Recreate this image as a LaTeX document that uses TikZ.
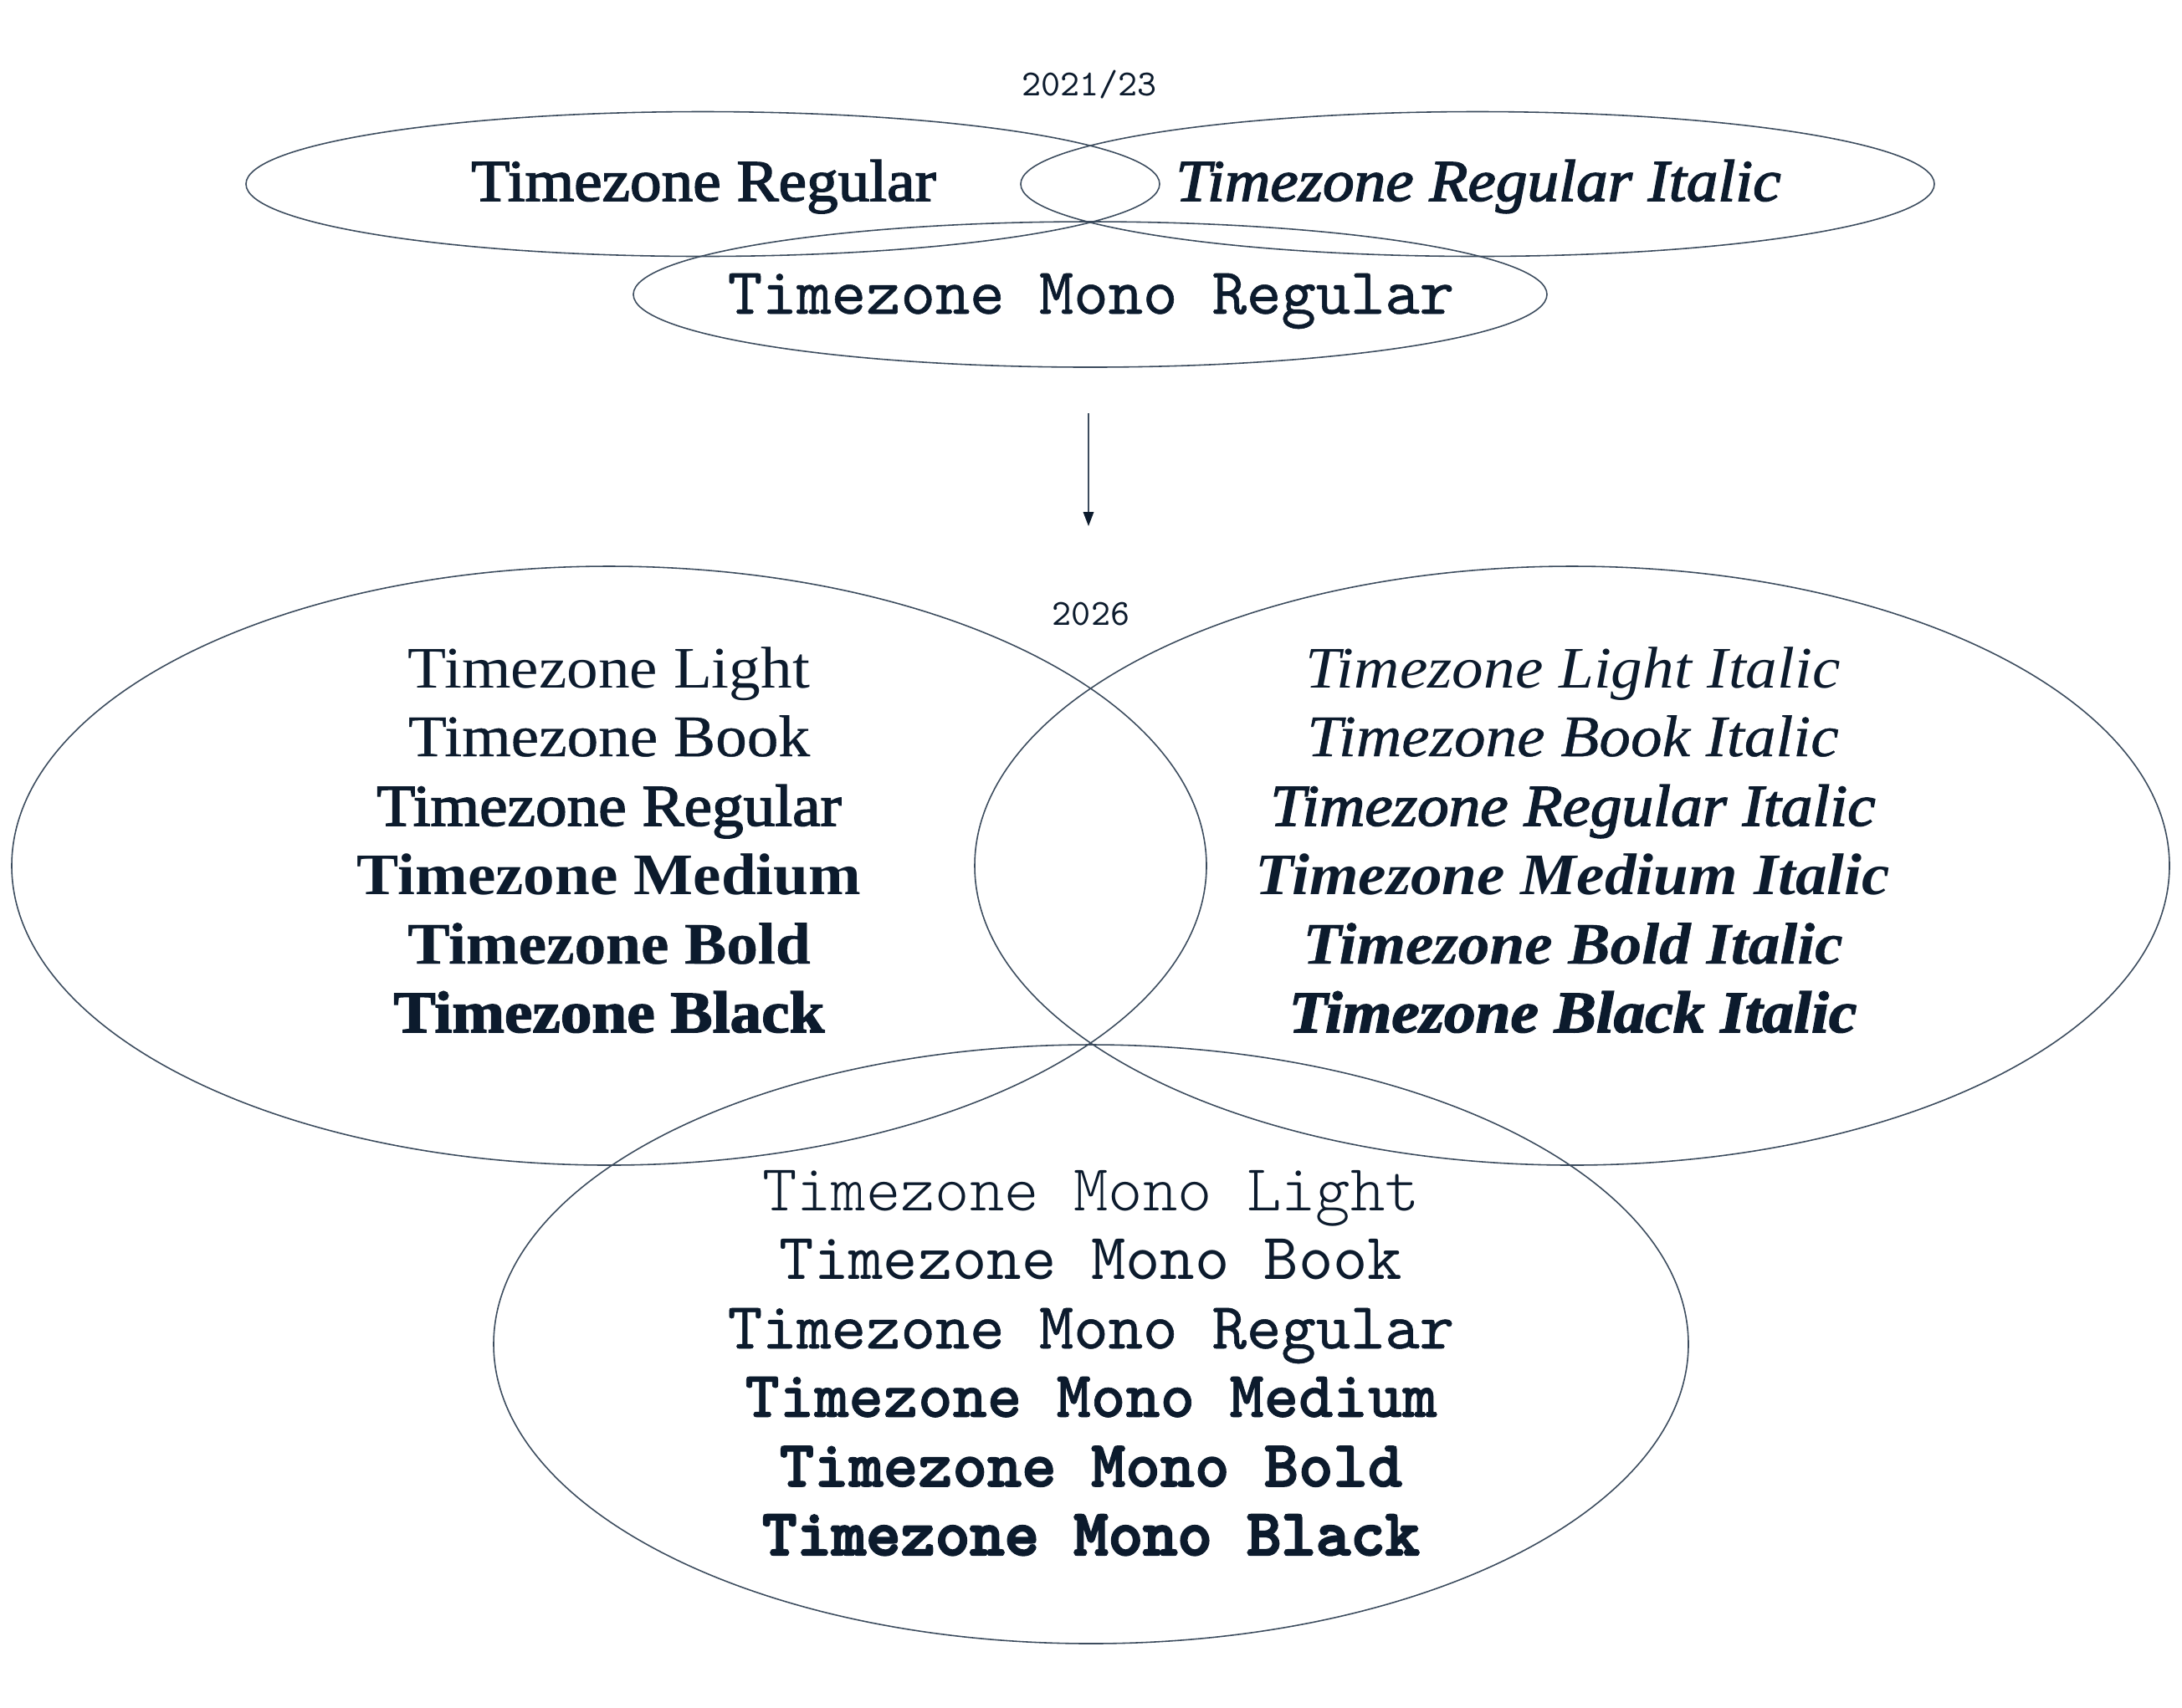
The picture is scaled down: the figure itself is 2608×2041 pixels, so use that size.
\documentclass[tikz,border=0pt]{standalone}
\usepackage{fontspec}
\usetikzlibrary{arrows.meta}
\definecolor{tzink}{RGB}{12,27,45}
\definecolor{tzline}{RGB}{60,76,94}
% three strengths per serif family, \bfseries doubles them up
\newfontfamily\serA{Liberation Serif}[FakeStretch=1.07]
\newfontfamily\serB{Liberation Serif}[FakeStretch=1.07, FakeBold=0.6]
\newfontfamily\serC{Liberation Serif}[FakeStretch=1.07, FakeBold=2.2]
% mono weights from the typewriter files
\newfontfamily\monLight{lmmonolt10-regular}[Extension=.otf]
\newfontfamily\monBook{lmmono10-regular}[Extension=.otf]
\newfontfamily\monReg{lmmono10-regular}[Extension=.otf, FakeBold=0.7]
\newfontfamily\monMed{lmmonolt10-bold}[Extension=.otf, FakeBold=0.9]
\newfontfamily\monBold{lmmonolt10-bold}[Extension=.otf, FakeBold=1.9]
\newfontfamily\monBlack{lmmonolt10-bold}[Extension=.otf, FakeBold=3.0]
\tikzset{
  ring/.style={draw=tzline, line width=0.45pt},
  yr/.style={anchor=base, text=tzink, font=\monBook\fontsize{12.5}{15}\selectfont},
  sty/.style={anchor=base, text=tzink, inner sep=0pt, font=\fontsize{20}{24}\selectfont},
  mty/.style={anchor=base, text=tzink, inner sep=0pt, font=\fontsize{22.4}{27}\selectfont},
  flowarr/.style={-{Triangle[length=1.7mm, width=1.25mm, color=tzink]}, tzline, line width=0.5pt},
}
\begin{document}
\begin{tikzpicture}[x=0.01cm, y=-0.01cm]
  \useasboundingbox (0,0) rectangle (2608,2041);
  % 2021/23
  \node[yr] (yrold) at (1302,114) {2021/23};
  \draw[ring] (840,220) ellipse [x radius=546, y radius=86.5];
  \draw[ring] (1766,220) ellipse [x radius=546, y radius=86.5];
  \draw[ring] (1303,352) ellipse [x radius=546, y radius=87];
  \node[sty] (oreg) at (841,240) {\serC Timezone Regular};
  \node[sty] (oita) at (1767,240) {\serC\itshape Timezone Regular Italic};
  \node[mty] (omono) at (1304,375) {\monReg Timezone Mono Regular};
  % arrow
  \coordinate (arrtop) at (1301,494);
  \coordinate (arrbot) at (1301,629);
  \draw[flowarr] (arrtop) -- (arrbot);
  % 2026
  \node[yr] (yrnew) at (1304,747) {2026};
  \draw[ring] (728,1035) ellipse [x radius=714, y radius=358];
  \draw[ring] (1879,1035) ellipse [x radius=714, y radius=358];
  \draw[ring] (1304,1607) ellipse [x radius=714, y radius=358];
  % upright
  \node[sty] (ul) at (728,822) {\serA Timezone Light};
  \node[sty] (ub) at (728,904) {\serB Timezone Book};
  \node[sty] (ur) at (728,987) {\serC Timezone Regular};
  \node[sty] (um) at (728,1069) {\serA\bfseries Timezone Medium};
  \node[sty] (ubo) at (728,1152) {\serB\bfseries Timezone Bold};
  \node[sty] (ubl) at (728,1234) {\serC\bfseries Timezone Black};
  % italic
  \node[sty] (il) at (1880,822) {\serA\itshape Timezone Light Italic};
  \node[sty] (ib) at (1880,904) {\serB\itshape Timezone Book Italic};
  \node[sty] (ir) at (1880,987) {\serC\itshape Timezone Regular Italic};
  \node[sty] (im) at (1880,1069) {\serA\bfseries\itshape Timezone Medium Italic};
  \node[sty] (ibo) at (1880,1152) {\serB\bfseries\itshape Timezone Bold Italic};
  \node[sty] (ibl) at (1880,1234) {\serC\bfseries\itshape Timezone Black Italic};
  % mono
  \node[mty] (ml) at (1304,1447) {\monLight Timezone Mono Light};
  \node[mty] (mb) at (1304,1529) {\monBook Timezone Mono Book};
  \node[mty] (mr) at (1304,1612) {\monReg Timezone Mono Regular};
  \node[mty] (mm) at (1304,1694) {\monMed Timezone Mono Medium};
  \node[mty] (mbo) at (1304,1777) {\monBold Timezone Mono Bold};
  \node[mty] (mbl) at (1304,1859) {\monBlack Timezone Mono Black};
\end{tikzpicture}
\end{document}
